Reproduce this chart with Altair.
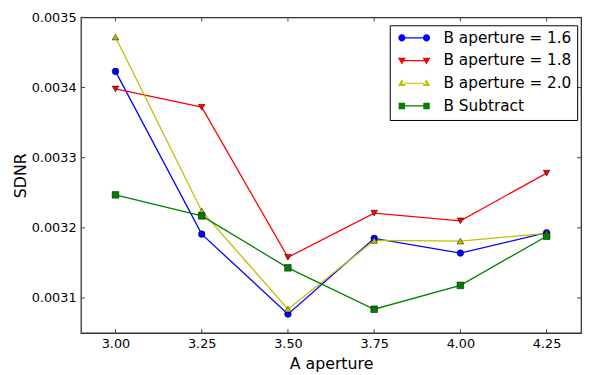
import altair as alt
import pandas as pd
import math

# ---- data ----
a_aperture = [3.00, 3.25, 3.50, 3.75, 4.00, 4.25]
series_names = ["B aperture = 1.6", "B aperture = 1.8", "B aperture = 2.0", "B Subtract"]
b16 = [0.003423, 0.003191, 0.003077, 0.003185, 0.003164, 0.003193]
b18 = [0.003398, 0.003372, 0.003158, 0.003221, 0.003210, 0.003278]
b20 = [0.003472, 0.003224, 0.003084, 0.003182, 0.003181, 0.003192]
bsub = [0.003247, 0.003217, 0.003143, 0.003084, 0.003118, 0.003188]
x_ticks = [3.00, 3.25, 3.50, 3.75, 4.00, 4.25]
y_ticks = [0.0031, 0.0032, 0.0033, 0.0034, 0.0035]

colors = ["#0000ff", "#ff0000", "#bfbf00", "#008000"]
shapes = ["circle", "triangle-down", "triangle-up", "square"]

rows = []
for name, vals in zip(series_names, [b16, b18, b20, bsub]):
    for xv, yv in zip(a_aperture, vals):
        rows.append({"x": xv, "y": yv, "series": name})
df = pd.DataFrame(rows)

W, H = 507, 320
FONT = "DejaVu Sans"

# legend symbol paths: thin bar with a marker at each end (units scaled by sqrt(size)/2)
L = 2.5
def poly(pts):
    return "M" + "L".join(f"{px:.3f},{py:.3f}" for px, py in pts) + "Z"
def circ(cx, r=0.72):
    return poly([(cx + r * math.cos(2 * math.pi * k / 16), r * math.sin(2 * math.pi * k / 16)) for k in range(16)])
def tri_down(cx, s=0.8):
    return poly([(cx - s, -0.55), (cx + s, -0.55), (cx, s)])
def tri_up(cx, s=0.8):
    return poly([(cx - s, 0.55), (cx + s, 0.55), (cx, -s)])
def sq(cx, h=0.65):
    return poly([(cx - h, -h), (cx + h, -h), (cx + h, h), (cx - h, h)])
bar = poly([(-L, -0.12), (L, -0.12), (L, 0.12), (-L, 0.12)])
legend_paths = [
    bar + circ(-L) + circ(L),
    bar + tri_down(-L) + tri_down(L),
    bar + tri_up(-L) + tri_up(L),
    bar + sq(-L) + sq(L),
]

xscale = alt.Scale(domain=[2.9, 4.35], nice=False, zero=False)
yscale = alt.Scale(domain=[0.00305, 0.0035], nice=False, zero=False)
X = alt.X("x:Q", scale=xscale,
          axis=alt.Axis(values=x_ticks, format=".2f", title="A aperture", tickSize=0,
                        labelPadding=5, titlePadding=5, grid=False, domain=False))
Y = alt.Y("y:Q", scale=yscale,
          axis=alt.Axis(values=y_ticks, format=".4f", title="SDNR", tickSize=0,
                        labelPadding=5, titlePadding=3, grid=False, domain=False))

lines = alt.Chart(df).mark_line(strokeWidth=1.3).encode(
    x=X, y=Y,
    stroke=alt.Stroke("series:N", scale=alt.Scale(domain=series_names, range=colors), legend=None),
)

points = alt.Chart(df).mark_point(filled=True, size=45, stroke="black", strokeWidth=0.5, opacity=1).encode(
    x=X, y=Y,
    fill=alt.Fill("series:N", scale=alt.Scale(domain=series_names, range=colors), legend=None),
    shape=alt.Shape("series:N", scale=alt.Scale(domain=series_names, range=shapes), legend=None),
)

leg = alt.Legend(title=None, orient="none", legendX=313, legendY=8, padding=5,
                 strokeColor="black", fillColor="white", cornerRadius=0,
                 labelFont=FONT, labelFontSize=15.5, labelColor="black",
                 symbolSize=100, symbolStrokeWidth=0, symbolOffset=12, labelOffset=22,
                 rowPadding=6)

# legend-only layer: no rows drawn, the entries come from the explicit scale domain
legend_layer = alt.Chart(df).mark_point(filled=True, size=100, opacity=1).encode(
    x=X, y=Y,
    fill=alt.Fill("series:N", scale=alt.Scale(domain=series_names, range=colors), legend=leg),
    shape=alt.Shape("series:N", scale=alt.Scale(domain=series_names, range=legend_paths), legend=leg),
).transform_filter("datum.x < 0")

xt = pd.DataFrame({"x": x_ticks})
yt = pd.DataFrame({"y": y_ticks})
tick_color = "#444444"
xb = alt.Chart(xt).mark_rule(color=tick_color, strokeWidth=1).encode(x=X, y=alt.value(H), y2=alt.value(H - 4))
xtop = alt.Chart(xt).mark_rule(color=tick_color, strokeWidth=1).encode(x=X, y=alt.value(0), y2=alt.value(4))
yl = alt.Chart(yt).mark_rule(color=tick_color, strokeWidth=1).encode(y=Y, x=alt.value(0), x2=alt.value(4))
yr = alt.Chart(yt).mark_rule(color=tick_color, strokeWidth=1).encode(y=Y, x=alt.value(W), x2=alt.value(W - 4))

chart = alt.layer(xb, xtop, yl, yr, lines, points, legend_layer).resolve_scale(
    fill="independent", shape="independent"
).properties(
    width=W, height=H,
    autosize=alt.AutoSizeParams(type="none"),
    padding={"left": 74, "top": 7, "right": 9, "bottom": 40},
).configure_view(
    stroke="#333333", strokeWidth=1.3
).configure_axis(
    labelFont=FONT, labelFontSize=13, labelColor="black",
    titleFont=FONT, titleFontSize=16, titleFontWeight="normal", titleColor="black",
)

chart.save("out.html", embed_options={"renderer": "svg", "actions": False})
